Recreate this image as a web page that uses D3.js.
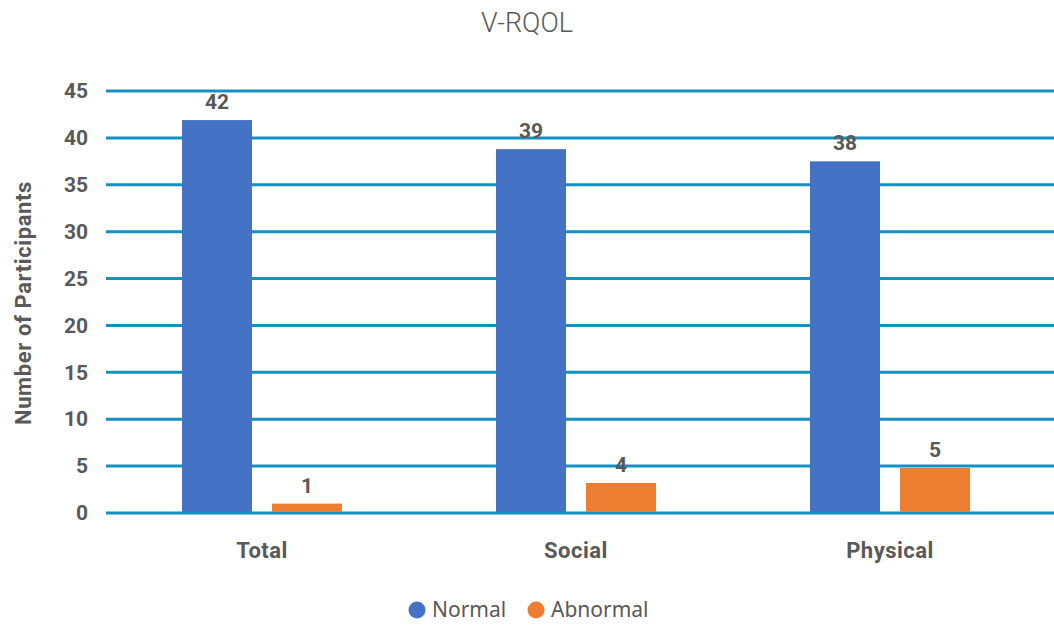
<!DOCTYPE html>
<html>
<head>
<meta charset="utf-8">
<script src="https://cdn.jsdelivr.net/npm/d3@7"></script>
<style>
  body { margin: 0; background: #fff; }
  svg { display: block; }
</style>
</head>
<body>
<svg width="1054" height="625"></svg>
<script>
var categories = ["Total", "Social", "Physical"]
var seriesNames = ["Normal", "Abnormal"]
// bar heights
var normalValues = [41.9, 38.8, 37.5]
var abnormalValues = [1.0, 3.2, 4.8]
// labels printed above the bars
var normalLabels = ["42", "39", "38"]
var abnormalLabels = ["1", "4", "5"]
var yTicks = [0, 5, 10, 15, 20, 25, 30, 35, 40, 45]

var colors = ["#4472c4", "#ed7d31"]
var textColor = "#595959"
var gridColor = "#1590c2"

var svg = d3.select("svg")
var plotLeft = 105, plotRight = 1047, plotTop = 91, plotBottom = 513

var x = d3.scaleBand().domain(categories).range([plotLeft, plotRight])
var y = d3.scaleLinear().domain([0, 45]).range([plotBottom, plotTop])
var barW = 70, gap = 20

var rows = categories.map(function(c, i){
    return {cat: c, vals: [normalValues[i], abnormalValues[i]], labels: [normalLabels[i], abnormalLabels[i]]}
})

// title
svg.append("text")
    .attr("x", 527).attr("y", 32)
    .attr("text-anchor", "middle")
    .attr("font-family", "Roboto, sans-serif")
    .attr("font-weight", 300)
    .attr("font-size", 27)
    .attr("fill", textColor)
    .text("V-RQOL")

// gridlines
svg.append("g").selectAll("line")
    .data(yTicks).enter().append("line")
    .attr("x1", 106).attr("x2", 1054)
    .attr("y1", function(d){ return y(d) })
    .attr("y2", function(d){ return y(d) })
    .attr("stroke", gridColor)
    .attr("stroke-width", 3)

// y axis labels
var yAxis = svg.append("g")
    .attr("transform", "translate(107,0)")
    .call(d3.axisLeft(y).tickValues(yTicks).tickSize(0).tickPadding(19))
yAxis.select(".domain").remove()
yAxis.selectAll("text")
    .attr("font-family", "Roboto, sans-serif")
    .attr("font-weight", "bold")
    .attr("font-size", 21)
    .attr("fill", textColor)

// x axis labels
var xAxis = svg.append("g")
    .attr("transform", "translate(0," + plotBottom + ")")
    .call(d3.axisBottom(x).tickSize(0).tickPadding(29))
xAxis.select(".domain").remove()
xAxis.selectAll("text")
    .attr("font-family", "Roboto, sans-serif")
    .attr("font-weight", "bold")
    .attr("font-size", 22)
    .attr("letter-spacing", 0.5)
    .attr("fill", textColor)

// bars
var groups = svg.append("g").selectAll("g")
    .data(rows).enter().append("g")
    .attr("transform", function(d){ return "translate(" + (x(d.cat) + x.bandwidth() / 2) + ",0)" })

groups.selectAll("rect")
    .data(function(d){ return d.vals }).enter().append("rect")
    .attr("x", function(d, i){ return i == 0 ? -barW - gap / 2 : gap / 2 })
    .attr("width", barW)
    .attr("y", function(d){ return y(d) })
    .attr("height", function(d){ return y(0) - y(d) - 1 })
    .attr("fill", function(d, i){ return colors[i] })

groups.selectAll("text")
    .data(function(d){ return d.vals.map(function(v, i){ return {v: v, label: d.labels[i], i: i} }) })
    .enter().append("text")
    .attr("x", function(d){ return d.i == 0 ? -barW / 2 - gap / 2 : barW / 2 + gap / 2 })
    .attr("y", function(d){ return y(d.v) - 11 })
    .attr("text-anchor", "middle")
    .attr("font-family", "Roboto, sans-serif")
    .attr("font-weight", "bold")
    .attr("font-size", 21)
    .attr("fill", textColor)
    .text(function(d){ return d.label })

// y axis title
svg.append("text")
    .attr("transform", "translate(31,303) rotate(-90)")
    .attr("text-anchor", "middle")
    .attr("font-family", "Roboto, sans-serif")
    .attr("font-weight", "bold")
    .attr("font-size", 22)
    .attr("letter-spacing", 0.6)
    .attr("fill", textColor)
    .text("Number of Participants")

// legend
var legendX = [417, 536]
var legend = svg.append("g").selectAll("g")
    .data(seriesNames).enter().append("g")
    .attr("transform", function(d, i){ return "translate(" + legendX[i] + ",610)" })
legend.append("circle")
    .attr("r", 8.5)
    .attr("fill", function(d, i){ return colors[i] })
legend.append("text")
    .attr("x", 15).attr("y", 7)
    .attr("font-family", "Noto Sans, sans-serif")
    .attr("font-size", 21)
    .attr("fill", textColor)
    .text(function(d){ return d })
</script>
</body>
</html>
